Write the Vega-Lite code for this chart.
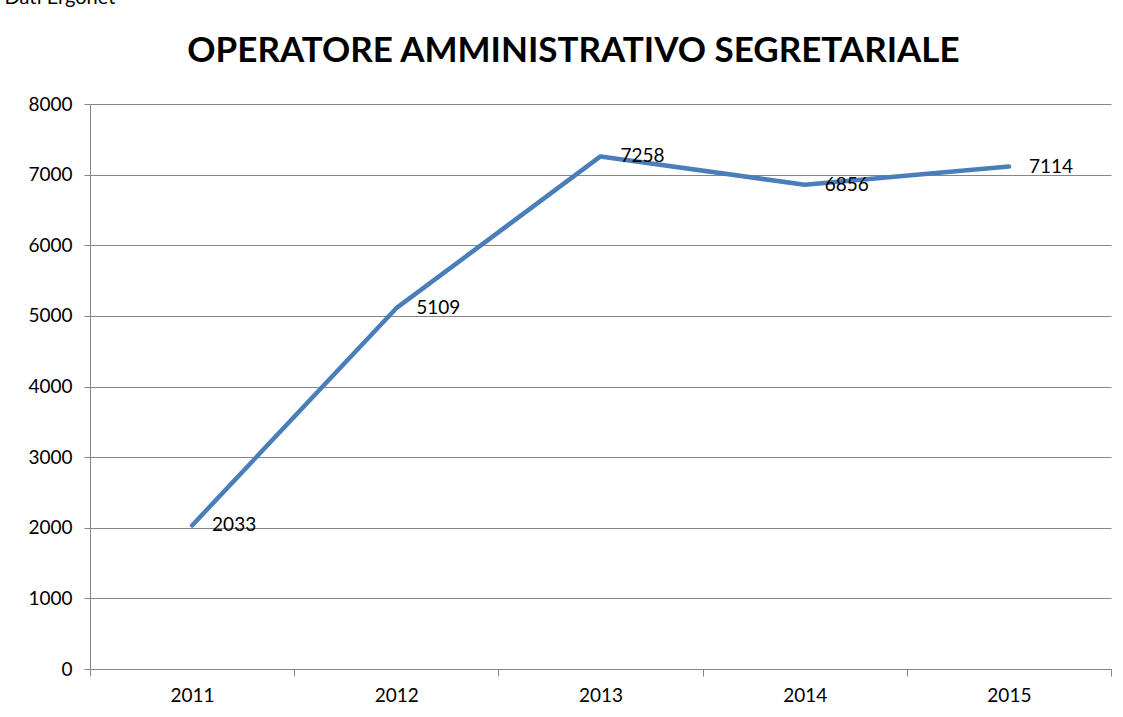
{
  "$schema": "https://vega.github.io/schema/vega-lite/v6.json",
  "autosize": "none",
  "width": 1021,
  "height": 565,
  "padding": {"left": 90, "top": 104, "right": 12, "bottom": 48},
  "background": "white",
  "title": {
    "text": "OPERATORE AMMINISTRATIVO SEGRETARIALE",
    "font": "Lato",
    "fontSize": 35,
    "fontWeight": "bold",
    "color": "black",
    "anchor": "middle",
    "baseline": "alphabetic",
    "offset": -110,
    "dx": -27
  },
  "data": {
    "values": [
      {"anno": "2011", "valore": 2033},
      {"anno": "2012", "valore": 5109},
      {"anno": "2013", "valore": 7258},
      {"anno": "2014", "valore": 6856},
      {"anno": "2015", "valore": 7114}
    ]
  },
  "encoding": {
    "x": {
      "field": "anno",
      "type": "ordinal",
      "scale": {"type": "band", "paddingInner": 0, "paddingOuter": 0},
      "axis": {
        "title": null,
        "labelAngle": 0,
        "labelFont": "Lato",
        "labelFontSize": 19,
        "labelColor": "black",
        "labelPadding": 10,
        "tickBand": "extent",
        "tickSize": 7,
        "tickColor": "#868686",
        "domainColor": "#868686",
        "grid": false
      }
    },
    "y": {
      "field": "valore",
      "type": "quantitative",
      "scale": {"domain": [0, 8000], "nice": false},
      "axis": {
        "title": "Dati Ergonet",
        "titleAngle": 0,
        "titleX": -86,
        "titleY": -101,
        "titleAlign": "left",
        "titleBaseline": "alphabetic",
        "titleFont": "Lato",
        "titleFontSize": 20,
        "titleFontWeight": "normal",
        "titleColor": "black",
        "values": [0, 1000, 2000, 3000, 4000, 5000, 6000, 7000, 8000],
        "format": "d",
        "labelFont": "Lato",
        "labelFontSize": 19,
        "labelColor": "black",
        "labelPadding": 12,
        "tickSize": 6,
        "tickColor": "#868686",
        "domainColor": "#868686",
        "grid": true,
        "gridColor": "#868686",
        "gridWidth": 1
      }
    }
  },
  "layer": [
    {
      "mark": {"type": "line", "color": "#4A7EBB", "strokeWidth": 4.5, "strokeJoin": "round", "strokeCap": "round"}
    },
    {
      "mark": {"type": "text", "align": "left", "baseline": "middle", "dx": 20, "font": "Lato", "fontSize": 19, "color": "black"},
      "encoding": {"text": {"field": "valore", "type": "quantitative", "format": "d"}}
    }
  ],
  "config": {"view": {"stroke": null}}
}
